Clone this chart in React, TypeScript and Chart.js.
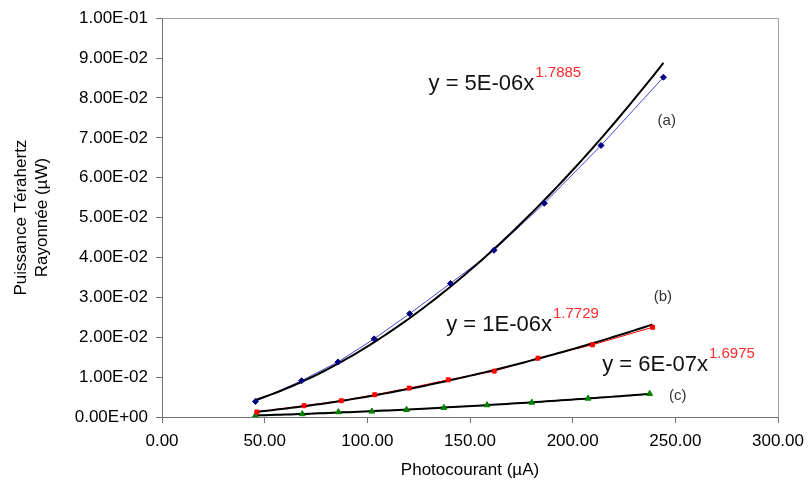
import React, { useEffect, useRef } from 'react';
import { Chart, registerables } from 'chart.js';

Chart.register(...registerables);

// ---- Data ----
const xA = [45.5, 68.0, 85.7, 103.3, 120.6, 140.5, 161.7, 186.2, 213.8, 244.2];
const yA = [0.0039, 0.0091, 0.0138, 0.0196, 0.0259, 0.0335, 0.0418, 0.0536, 0.0681, 0.0852];

const xB = [46.2, 69.2, 87.3, 103.6, 120.4, 139.4, 161.8, 183.1, 209.6, 238.9];
const yB = [0.00125, 0.00283, 0.00408, 0.00558, 0.00725, 0.00933, 0.0115, 0.01475, 0.0181, 0.0225];

const xC = [45.5, 68.3, 85.9, 102.2, 119.1, 137.3, 158.3, 180.1, 207.5, 237.5];
const yC = [0.00038, 0.00075, 0.00125, 0.0014, 0.00183, 0.00233, 0.003, 0.00365, 0.00465, 0.00583];

const seriesNames = ['(a)', '(b)', '(c)'];
const equationTexts = ['y = 5E-06x', 'y = 1E-06x', 'y = 6E-07x'];
const equationExponents = ['1.7885', '1.7729', '1.6975'];

const xTitle = 'Photocourant (µA)';
const yTitleLines = ['Puissance Térahertz', 'Rayonnée (µW)'];

const FONT = '"Liberation Sans", Arial, Helvetica, sans-serif';

// ---- Power-law trendline (least squares on ln-ln, as the spreadsheet does) ----
function powerFit(xs: number[], ys: number[]) {
  const n = xs.length;
  let sx = 0, sy = 0, sxx = 0, sxy = 0;
  for (let i = 0; i < n; i++) {
    const lx = Math.log(xs[i]);
    const ly = Math.log(ys[i]);
    sx += lx; sy += ly; sxx += lx * lx; sxy += lx * ly;
  }
  const b = (n * sxy - sx * sy) / (n * sxx - sx * sx);
  const a = Math.exp((sy - b * sx) / n);
  return { a, b };
}

function trend(xs: number[], ys: number[]) {
  const { a, b } = powerFit(xs, ys);
  const x0 = xs[0];
  const x1 = xs[xs.length - 1];
  const pts: { x: number; y: number }[] = [];
  const steps = 80;
  for (let i = 0; i <= steps; i++) {
    const x = x0 + ((x1 - x0) * i) / steps;
    pts.push({ x, y: a * Math.pow(x, b) });
  }
  return pts;
}

const toPts = (xs: number[], ys: number[]) => xs.map((x, i) => ({ x, y: ys[i] }));

function fmtExp(v: number) {
  const s = Number(v).toExponential(2); // e.g. 1.00e-1
  const m = s.match(/^(-?[\d.]+)e([+-])(\d+)$/);
  if (!m) return s;
  return `${m[1]}E${m[2]}${m[3].padStart(2, '0')}`;
}

const textPlugin = {
  id: 'texts',
  beforeDatasetsDraw(chart: any) {
    const { ctx, chartArea } = chart;
    ctx.save();
    ctx.strokeStyle = '#a0a0a0';
    ctx.lineWidth = 1;
    ctx.beginPath();
    ctx.moveTo(Math.round(chartArea.left) + 0.5, Math.round(chartArea.top) + 0.5);
    ctx.lineTo(Math.round(chartArea.right) + 0.5, Math.round(chartArea.top) + 0.5);
    ctx.lineTo(Math.round(chartArea.right) + 0.5, Math.round(chartArea.bottom) + 0.5);
    ctx.stroke();
    ctx.restore();
  },
  afterDraw(chart: any) {
    const { ctx, chartArea, scales } = chart;
    const sx = scales.x;
    const sy = scales.y;
    ctx.save();

    // Y axis title (two lines, rotated)
    ctx.fillStyle = '#000';
    ctx.font = `17px ${FONT}`;
    ctx.textAlign = 'center';
    ctx.textBaseline = 'middle';
    const cy = (chartArea.top + chartArea.bottom) / 2;
    const lineX = [21, 42];
    yTitleLines.forEach((t, i) => {
      ctx.save();
      ctx.translate(lineX[i], cy);
      ctx.rotate(-Math.PI / 2);
      ctx.fillText(t, 0, 0);
      ctx.restore();
    });

    // X axis title
    ctx.fillText(xTitle, (chartArea.left + chartArea.right) / 2, 470);

    // Equations
    const eqPos = [
      { x: 129.8, y: 0.0836 },
      { x: 138.4, y: 0.0231 },
      { x: 214.4, y: 0.0131 },
    ];
    eqPos.forEach((p, i) => {
      const px = sx.getPixelForValue(p.x);
      const py = sy.getPixelForValue(p.y);
      ctx.textAlign = 'left';
      ctx.textBaseline = 'middle';
      ctx.font = `22px ${FONT}`;
      ctx.fillStyle = '#111';
      ctx.fillText(equationTexts[i], px, py);
      const w = ctx.measureText(equationTexts[i]).width;
      ctx.font = `15px ${FONT}`;
      ctx.fillStyle = '#ff2a2a';
      ctx.fillText(equationExponents[i], px + w + 1, py - 11);
    });

    // Series labels
    const labPos = [
      { x: 245.8, y: 0.0743 },
      { x: 243.9, y: 0.0301 },
      { x: 251.2, y: 0.0053 },
    ];
    labPos.forEach((p, i) => {
      ctx.font = `15px ${FONT}`;
      ctx.fillStyle = '#333';
      ctx.textAlign = 'center';
      ctx.textBaseline = 'middle';
      ctx.fillText(seriesNames[i], sx.getPixelForValue(p.x), sy.getPixelForValue(p.y));
    });

    ctx.restore();
  },
};

export default function App() {
  const ref = useRef<HTMLCanvasElement>(null);

  useEffect(() => {
    if (!ref.current) return;
    const lineDs = (xs: number[], ys: number[], color: string) => ({
      data: toPts(xs, ys),
      borderColor: color,
      borderWidth: 1,
      pointRadius: 0,
      showLine: true,
      tension: 0,
      order: 3,
    });
    const trendDs = (xs: number[], ys: number[]) => ({
      data: trend(xs, ys),
      borderColor: '#000',
      borderWidth: 2,
      pointRadius: 0,
      showLine: true,
      tension: 0,
      order: 2,
    });
    const markDs = (xs: number[], ys: number[], color: string, style: string, r: number) => ({
      data: toPts(xs, ys),
      borderColor: color,
      backgroundColor: color,
      pointStyle: style,
      pointRadius: r,
      pointBorderWidth: 1,
      showLine: false,
      order: 1,
    });

    const chart = new Chart(ref.current, {
      type: 'scatter',
      data: {
        datasets: [
          lineDs(xA, yA, '#4646d0'),
          lineDs(xB, yB, '#ff0000'),
          lineDs(xC, yC, '#00a000'),
          trendDs(xA, yA),
          trendDs(xB, yB),
          trendDs(xC, yC),
          markDs(xA, yA, '#000080', 'rectRot', 3),
          markDs(xB, yB, '#ff0000', 'rect', 2.8),
          markDs(xC, yC, '#008000', 'triangle', 3.4),
        ] as any,
      },
      options: {
        animation: false,
        responsive: false,
        layout: { padding: { top: 17, right: 30, left: 0, bottom: 0 } },
        plugins: {
          legend: { display: false },
          tooltip: { enabled: false },
        },
        scales: {
          x: {
            type: 'linear',
            min: 0,
            max: 300,
            ticks: {
              stepSize: 50,
              callback: (v: any) => Number(v).toFixed(2),
              font: { family: FONT, size: 17 },
              color: '#000',
              padding: 8,
              maxRotation: 0,
            },
            grid: { drawOnChartArea: false, tickLength: 6, color: '#707070' },
            border: { color: '#707070', width: 1 },
            afterFit: (s: any) => { s.height = 73; },
          },
          y: {
            type: 'linear',
            min: 0,
            max: 0.1,
            ticks: {
              stepSize: 0.01,
              callback: (v: any) => fmtExp(Number(v)),
              font: { family: FONT, size: 17 },
              color: '#000',
              padding: 8,
            },
            grid: { drawOnChartArea: false, tickLength: 6, color: '#707070' },
            border: { color: '#707070', width: 1 },
            afterFit: (s: any) => { s.width = 162; },
          },
        },
      } as any,
      plugins: [textPlugin],
    });
    return () => chart.destroy();
  }, []);

  return (
    <div style={{ position: 'absolute', left: 0, top: 0, width: 812, height: 490, background: '#fff' }}>
      <canvas ref={ref} width={812} height={490} style={{ display: 'block', width: 812, height: 490 }} />
    </div>
  );
}
